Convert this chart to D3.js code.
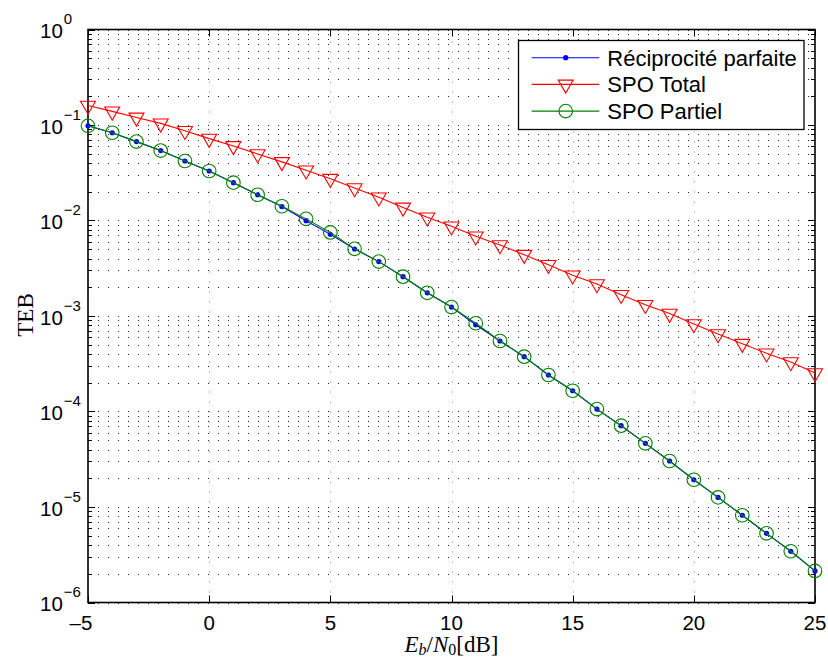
<!DOCTYPE html>
<html><head><meta charset="utf-8">
<script src="https://cdn.jsdelivr.net/npm/d3@7"></script>
<style>body{margin:0;background:#fff}svg{display:block}</style>
</head><body>
<svg id="c" width="828" height="661"></svg>
<script>
const ebn0 = [-5,-4,-3,-2,-1,0,1,2,3,4,5,6,7,8,9,10,11,12,13,14,15,16,17,18,19,20,21,22,23,24,25];
const reciprocite = [0.098,0.083,0.067,0.054,0.042,0.033,0.0249,0.0186,0.0140,0.00995,0.00716,0.00503,0.00371,0.00258,0.00175,0.00124,0.00081,0.000547,0.000375,0.000241,0.000165,0.000106,7.1e-5,4.64e-5,3.03e-5,1.93e-5,1.26e-5,8.2e-6,5.3e-6,3.44e-6,2.14e-6];
const spoTotal = [0.160,0.139,0.120,0.104,0.0870,0.0720,0.0604,0.0497,0.0411,0.0336,0.0274,0.0219,0.0175,0.0137,0.0108,0.00870,0.00684,0.00554,0.00439,0.00344,0.00267,0.00216,0.00167,0.00131,0.00106,0.000825,0.000648,0.000513,0.000407,0.000330,0.000253];
const spoPartiel = [0.098,0.083,0.067,0.054,0.042,0.033,0.0249,0.0186,0.0141,0.0104,0.0075,0.00505,0.00371,0.00258,0.00175,0.00124,0.00084,0.000547,0.000375,0.000241,0.000165,0.000106,7.1e-5,4.64e-5,3.03e-5,1.93e-5,1.26e-5,8.2e-6,5.3e-6,3.44e-6,2.14e-6];
const xTicks = [-5,0,5,10,15,20,25];
const yExponents = [0,-1,-2,-3,-4,-5,-6];
const legendLabels = ["Réciprocité parfaite","SPO Total","SPO Partiel"];

const svg = d3.select("#c");
const L=88, R=815, T=29.5, B=602.5;
const x = d3.scaleLinear().domain([-5,25]).range([L,R]);
const y = d3.scaleLog().domain([1e-6,1]).range([B,T]);
const font = "'Liberation Sans', Arial, Helvetica, sans-serif";

svg.append("rect").attr("width",828).attr("height",661).attr("fill","#fff");

const yGrid = [];
for (let e=-6;e<0;e++) for (let m=1;m<=9;m++) yGrid.push(m*Math.pow(10,e));
yGrid.push(1);

const grid = svg.append("g");
grid.selectAll("line.h").data(yGrid).join("line")
  .attr("x1",L).attr("x2",R).attr("y1",d=>Math.round(y(d))+0.5).attr("y2",d=>Math.round(y(d))+0.5)
  .attr("stroke","#222").attr("stroke-width",1).attr("stroke-dasharray","1,9");
grid.selectAll("line.v").data(xTicks.slice(1,-1)).join("line")
  .attr("x1",d=>Math.round(x(d))+0.5).attr("x2",d=>Math.round(x(d))+0.5).attr("y1",B).attr("y2",T)
  .attr("stroke","#888").attr("stroke-width",1).attr("stroke-dasharray","1,9");

const tk = svg.append("g").attr("stroke","#000").attr("stroke-width",1);
xTicks.forEach(d=>{
  const px = Math.round(x(d))+0.5;
  tk.append("line").attr("x1",px).attr("x2",px).attr("y1",B).attr("y2",B-7);
  tk.append("line").attr("x1",px).attr("x2",px).attr("y1",T).attr("y2",T+7);
});
yGrid.forEach(d=>{
  const py = Math.round(y(d))+0.5;
  const major = Math.abs(Math.log10(d)-Math.round(Math.log10(d)))<1e-9;
  const len = major?7:4;
  tk.append("line").attr("x1",L).attr("x2",L+len).attr("y1",py).attr("y2",py);
  tk.append("line").attr("x1",R).attr("x2",R-len).attr("y1",py).attr("y2",py);
});

svg.append("rect").attr("x",L).attr("y",T).attr("width",R-L).attr("height",B-T)
  .attr("fill","none").attr("stroke","#000").attr("stroke-width",1.6);

svg.append("g").selectAll("text").data(xTicks).join("text")
  .attr("x",d=>x(d)).attr("y",630).attr("dx",d=>d<0?-7:0)
  .attr("text-anchor","middle").attr("font-family",font).attr("font-size",20.5)
  .text(d=>d<0?"\u2013"+Math.abs(d):d);

const yl = svg.append("g").attr("font-family",font);
yExponents.forEach(e=>{
  const t = yl.append("text").attr("x",40).attr("y",y(Math.pow(10,e))+8.5).attr("font-size",20.5);
  t.append("tspan").text("10");
  t.append("tspan").attr("dx",1).attr("dy",-14).attr("font-size",15).text(e<0?"\u2212"+Math.abs(e):e);
});

const line = d3.line().x(d=>x(d[0])).y(d=>y(d[1]));
const series = [
  {vals:reciprocite, color:"#0000ff", marker:"dot"},
  {vals:spoTotal, color:"#ff0000", marker:"tri"},
  {vals:spoPartiel, color:"#008000", marker:"circ"}
];
const triPath = "M-7.5,-4.3L7.5,-4.3L0,8.7Z";
function drawMarker(g, s, px, py){
  if (s.marker==="dot") g.append("circle").attr("cx",px).attr("cy",py).attr("r",2.6).attr("fill",s.color);
  else if (s.marker==="circ") g.append("circle").attr("cx",px).attr("cy",py).attr("r",6.8).attr("fill","none").attr("stroke",s.color).attr("stroke-width",1.1);
  else g.append("path").attr("d",triPath).attr("transform",`translate(${px},${py})`).attr("fill","none").attr("stroke",s.color).attr("stroke-width",1.1);
}
series.forEach(s=>{
  const pts = ebn0.map((e,i)=>[e,s.vals[i]]);
  svg.append("path").datum(pts).attr("d",line).attr("fill","none").attr("stroke",s.color).attr("stroke-width",1.1);
  const g = svg.append("g");
  pts.forEach(p=>drawMarker(g,s,x(p[0]),y(p[1])));
});

const lg = svg.append("g");
lg.append("rect").attr("x",518.5).attr("y",40.5).attr("width",285.5).attr("height",89)
  .attr("fill","#fff").attr("stroke","#000").attr("stroke-width",1.3);
legendLabels.forEach((lab,i)=>{
  const cy = 57.7 + i*26.7;
  const s = series[i];
  lg.append("line").attr("x1",531.7).attr("x2",599.3).attr("y1",cy).attr("y2",cy).attr("stroke",s.color).attr("stroke-width",1.1);
  drawMarker(lg,s,565.7,cy);
  lg.append("text").attr("x",607.3).attr("y",cy+8).attr("font-family",font).attr("font-size",22).text(lab);
});

const serif = "'Liberation Serif','Times New Roman',serif";
svg.append("text").attr("transform","translate(33,315) rotate(-90)").attr("text-anchor","middle")
  .attr("font-family",serif).attr("font-size",23).text("TEB");
const xl = svg.append("text").attr("x",451.5).attr("y",652).attr("text-anchor","middle")
  .attr("font-family",serif).attr("font-size",23);
xl.append("tspan").attr("font-style","italic").text("E");
xl.append("tspan").attr("font-style","italic").attr("font-size",16).attr("dy",3).text("b");
xl.append("tspan").attr("dy",-3).text("/");
xl.append("tspan").attr("font-style","italic").text("N");
xl.append("tspan").attr("font-size",16).attr("dy",3).text("0");
xl.append("tspan").attr("dy",-3).text("[dB]");
</script>
</body></html>
